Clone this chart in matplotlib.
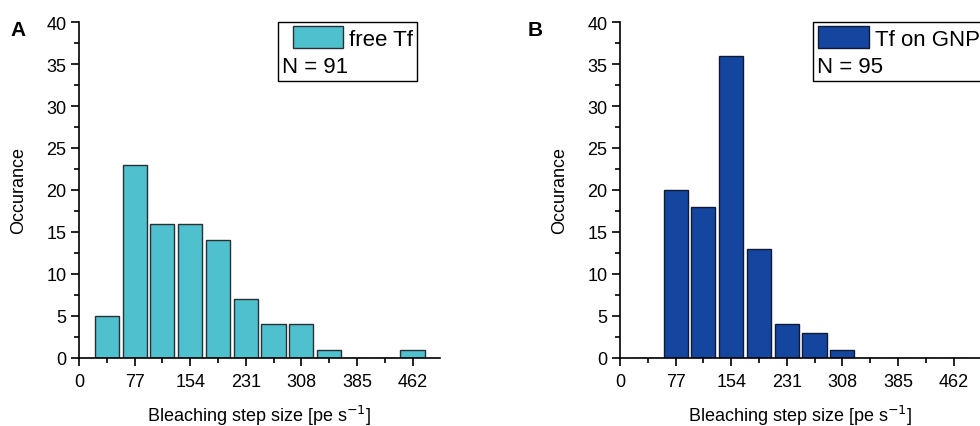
import matplotlib
matplotlib.use("Agg")
import matplotlib.pyplot as plt
from matplotlib.patches import Patch
from matplotlib.legend_handler import HandlerPatch
from matplotlib.ticker import MultipleLocator

plt.rcParams['font.family'] = ['Liberation Sans', 'DejaVu Sans']

bin_centers = [38.5, 77, 115.5, 154, 192.5, 231, 269.5, 308, 346.5, 385, 423.5, 462]
counts_free = [5, 23, 16, 16, 14, 7, 4, 4, 1, 0, 0, 1]
counts_gnp = [0, 20, 18, 36, 13, 4, 3, 1, 0, 0, 0, 0]
xticks = [0, 77, 154, 231, 308, 385, 462]
labels = ["free Tf", "Tf on GNP"]
n_values = [91, 95]
colors = ["#4EC0CE", "#1446A0"]
edgecolors = ["#2a2f33", "#111a33"]
panel_letters = ["A", "B"]

fig = plt.figure(figsize=(9.8, 4.27), dpi=100)
axA = fig.add_axes([79/980, 68/427, 361/980, 336/427])
axB = fig.add_axes([620/980, 68/427, 361/980, 336/427])

legend_left = [0.551, 0.535]
handle_xpad = [0.5, 0.05]
handle_len = [2.75, 2.35]

for i, (ax, counts) in enumerate(zip([axA, axB], [counts_free, counts_gnp])):
    ax.bar(bin_centers, counts, width=33.5, color=colors[i],
           edgecolor=edgecolors[i], linewidth=1.0, zorder=2)
    ax.set_xlim(0, 500)
    ax.set_ylim(0, 40)
    ax.set_xticks(xticks)
    ax.xaxis.set_minor_locator(MultipleLocator(38.5))
    ax.yaxis.set_major_locator(MultipleLocator(5))
    ax.yaxis.set_minor_locator(MultipleLocator(2.5))
    for s in ["top", "right"]:
        ax.spines[s].set_visible(False)
    for s in ["left", "bottom"]:
        ax.spines[s].set_linewidth(1.2)
    ax.tick_params(which='major', direction='out', length=6, width=1.2, labelsize=13, pad=3)
    ax.tick_params(axis='x', which='major', pad=5)
    ax.tick_params(which='minor', direction='out', length=3.5, width=1.2)
    ax.set_xlabel("Bleaching step size [pe s$^{-1}$]", fontsize=13, labelpad=9)
    ax.set_ylabel("Occurance", fontsize=13, labelpad=14)
    ax.spines['bottom'].set_zorder(3)

    handle = Patch(facecolor=colors[i], edgecolor=edgecolors[i], linewidth=1.0)
    leg = ax.legend([handle], [labels[i]], title=f"N = {n_values[i]}",
                    loc='upper left', bbox_to_anchor=(legend_left[i], 1.0),
                    borderaxespad=0, fontsize=16, title_fontsize=16,
                    frameon=True, fancybox=False, framealpha=1,
                    edgecolor='black', handlelength=handle_len[i], handleheight=1.15,
                    handletextpad=0.25, borderpad=0.18, labelspacing=0.3,
                    handler_map={Patch: HandlerPatch(xpad=handle_xpad[i])})
    leg.get_frame().set_linewidth(1.0)
    leg._legend_box._children.reverse()
    leg.set_alignment('left')

fig.text(18/980, 1 - 30/427, panel_letters[0], fontsize=15, fontweight='bold', va='center', ha='center')
fig.text(535/980, 1 - 30/427, panel_letters[1], fontsize=15, fontweight='bold', va='center', ha='center')

fig.savefig("out.png", dpi=100)
